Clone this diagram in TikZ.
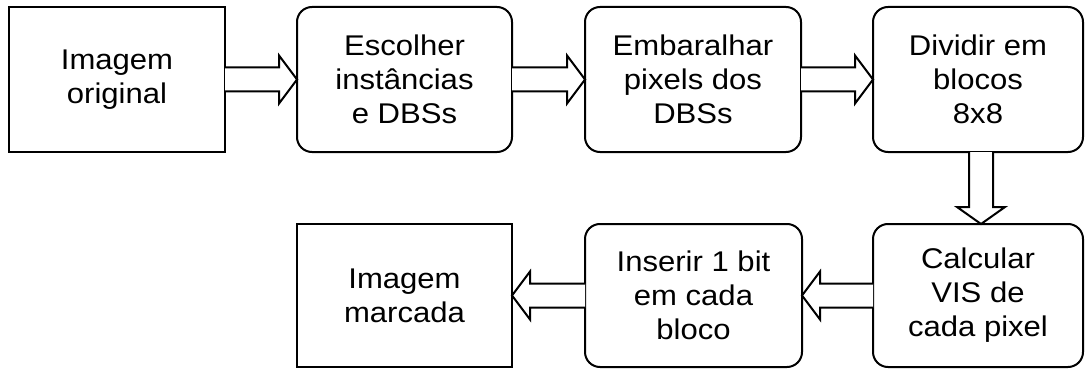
\documentclass[tikz,border=0pt]{standalone}
\usepackage{fontspec}
\setmainfont[FakeStretch=1.09]{Liberation Sans}
\usetikzlibrary{calc}
\tikzset{
  box/.style={draw=black, line width=2pt, fill=white, outer sep=0pt, inner sep=0pt,
    align=center, font=\fontsize{28.5pt}{34pt}\selectfont, minimum height=145pt},
  rbox/.style={box, rounded corners=15pt},
  blockarrow/.style={draw=black, line width=2pt, fill=white, line join=miter},
}
\newcommand{\harrowR}[2]{%
  \draw[blockarrow] ($(#1.east)+(0,12)$) -- ($(#2.west)+(-18,12)$) -- ($(#2.west)+(-18,24)$)
    -- (#2.west) -- ($(#2.west)+(-18,-24)$) -- ($(#2.west)+(-18,-12)$) -- ($(#1.east)+(0,-12)$);}
\newcommand{\harrowL}[2]{%
  \draw[blockarrow] ($(#1.west)+(0,12)$) -- ($(#2.east)+(18,12)$) -- ($(#2.east)+(18,24)$)
    -- (#2.east) -- ($(#2.east)+(18,-24)$) -- ($(#2.east)+(18,-12)$) -- ($(#1.west)+(0,-12)$);}
\begin{document}
\begin{tikzpicture}[x=1pt, y=-1pt]
\useasboundingbox (0,0) rectangle (1085,369);
\node[box, minimum width=216pt] (n1) at (117,79.5) {Imagem\\original};
\node[rbox, minimum width=215pt] (n2) at (404.5,79.5) {Escolher\\instâncias\\e DBSs};
\node[rbox, minimum width=216pt] (n3) at (693,79.5) {Embaralhar\\pixels dos\\DBSs};
\node[rbox, minimum width=210pt] (n4) at (978,79.5) {Dividir em\\blocos\\8x8};
\node[rbox, minimum width=210pt, minimum height=143pt] (n5) at (978,295.5) {Calcular\\VIS de\\cada pixel};
\node[rbox, minimum width=217pt, minimum height=143pt] (n6) at (693.5,295.5) {Inserir 1 bit\\em cada\\bloco};
\node[box, minimum width=215pt, minimum height=143pt] (n7) at (404.5,295.5) {Imagem\\marcada};
\harrowR{n1}{n2}
\harrowR{n2}{n3}
\harrowR{n3}{n4}
\harrowL{n5}{n6}
\harrowL{n6}{n7}
\draw[blockarrow] ($(n4.south)+(15,0)$) -- ($(n5.north)+(15,-17)$) -- ($(n5.north)+(27,-17)$)
  -- ($(n5.north)+(3,0)$) -- ($(n5.north)+(-21,-17)$) -- ($(n5.north)+(-9,-17)$) -- ($(n4.south)+(-9,0)$);
\end{tikzpicture}
\end{document}
